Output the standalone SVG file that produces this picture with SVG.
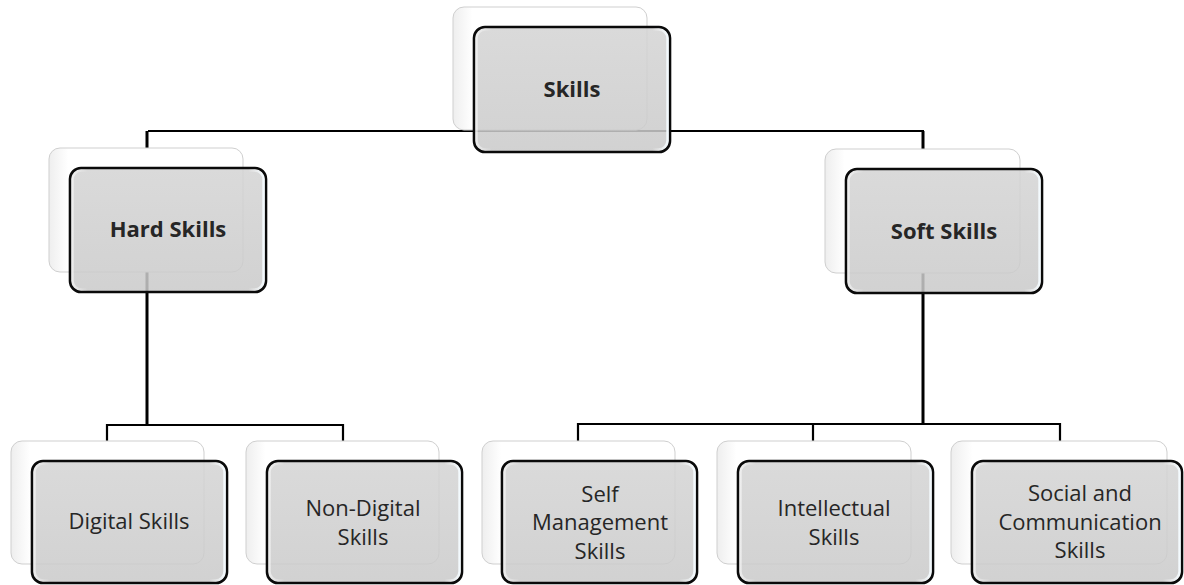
<svg xmlns="http://www.w3.org/2000/svg" width="1184" height="585" viewBox="0 0 1184 585">
<defs>
<linearGradient id="boxFill" x1="0" y1="0" x2="0" y2="1">
<stop offset="0" stop-color="#d4d4d4"/>
<stop offset="1" stop-color="#cacaca"/>
</linearGradient>
<linearGradient id="hl" x1="0" y1="0" x2="1" y2="0">
<stop offset="0" stop-color="#ffffff" stop-opacity="0.55"/>
<stop offset="0.08" stop-color="#ffffff" stop-opacity="0"/>
<stop offset="0.92" stop-color="#ffffff" stop-opacity="0"/>
<stop offset="1" stop-color="#f4fbff" stop-opacity="0.95"/>
</linearGradient>
<linearGradient id="frameFill" x1="0" y1="0" x2="1" y2="0">
<stop offset="0" stop-color="#eeeeee"/>
<stop offset="0.1" stop-color="#ffffff"/>
<stop offset="1" stop-color="#ffffff"/>
</linearGradient>
</defs>
<style>
.frame{fill:url(#frameFill);stroke:#cfcfcf;stroke-width:1}
.box{fill:url(#boxFill);fill-opacity:0.86;stroke:#0a0a0a;stroke-width:2.6}
.gloss{fill:none;stroke:url(#hl);stroke-width:2.5}
.conn{fill:none;stroke:#000000;stroke-width:2.2}
.thick{stroke-width:3}
.t{font-family:"Open Sans","Noto Sans","Liberation Sans",sans-serif;font-size:22px;fill:#262626;text-anchor:middle}
.b{font-weight:bold}
</style>
<rect width="1184" height="585" fill="#ffffff"/>
<g id="connectors">
<path class="conn" d="M148,131 H924"/>
<path class="conn thick" d="M147,131 V425"/>
<path class="conn thick" d="M923,131 V424"/>
<path class="conn" d="M107,441 V425 H343 V441"/>
<path class="conn" d="M578,441 V424 H1060 V441"/>
<path class="conn" d="M813,424 V441"/>
</g>
<g id="node-skills">
<rect class="frame" x="453" y="7" width="194" height="123" rx="11"/>
<rect class="box" x="474" y="27" width="196" height="125" rx="11"/>
<rect class="gloss" x="476.5" y="29.5" width="191" height="120" rx="9"/>
<text class="t b" x="572" y="97">Skills</text>
</g>
<g id="node-hard">
<rect class="frame" x="49" y="148" width="194" height="124" rx="11"/>
<rect class="box" x="70" y="168" width="196" height="124" rx="11"/>
<rect class="gloss" x="72.5" y="170.5" width="191" height="119" rx="9"/>
<text class="t b" x="168" y="237">Hard Skills</text>
</g>
<g id="node-soft">
<rect class="frame" x="825" y="149" width="195" height="124" rx="11"/>
<rect class="box" x="846" y="169" width="196" height="124" rx="11"/>
<rect class="gloss" x="848.5" y="171.5" width="191" height="119" rx="9"/>
<text class="t b" x="944" y="239">Soft Skills</text>
</g>
<g id="node-digital">
<rect class="frame" x="11" y="441" width="193" height="123" rx="11"/>
<rect class="box" x="32" y="461" width="195" height="122" rx="11"/>
<rect class="gloss" x="34.5" y="463.5" width="190" height="117" rx="9"/>
<text class="t" x="129" y="529">Digital Skills</text>
</g>
<g id="node-nondigital">
<rect class="frame" x="246" y="441" width="193" height="123" rx="11"/>
<rect class="box" x="267" y="461" width="195" height="122" rx="11"/>
<rect class="gloss" x="269.5" y="463.5" width="190" height="117" rx="9"/>
<text class="t" x="363" y="516">Non-Digital</text>
<text class="t" x="363" y="545">Skills</text>
</g>
<g id="node-self">
<rect class="frame" x="482" y="441" width="193" height="123" rx="11"/>
<rect class="box" x="502" y="461" width="195" height="122" rx="11"/>
<rect class="gloss" x="504.5" y="463.5" width="190" height="117" rx="9"/>
<text class="t" x="600" y="502">Self</text>
<text class="t" x="600" y="530">Management</text>
<text class="t" x="600" y="559">Skills</text>
</g>
<g id="node-intellectual">
<rect class="frame" x="717" y="441" width="194" height="123" rx="11"/>
<rect class="box" x="738" y="461" width="195" height="122" rx="11"/>
<rect class="gloss" x="740.5" y="463.5" width="190" height="117" rx="9"/>
<text class="t" x="834" y="516">Intellectual</text>
<text class="t" x="834" y="545">Skills</text>
</g>
<g id="node-social">
<rect class="frame" x="951" y="441" width="216" height="123" rx="11"/>
<rect class="box" x="972" y="461" width="210" height="122" rx="11"/>
<rect class="gloss" x="974.5" y="463.5" width="205" height="117" rx="9"/>
<text class="t" x="1080" y="501">Social and</text>
<text class="t" x="1080" y="530">Communication</text>
<text class="t" x="1080" y="558">Skills</text>
</g>
</svg>
